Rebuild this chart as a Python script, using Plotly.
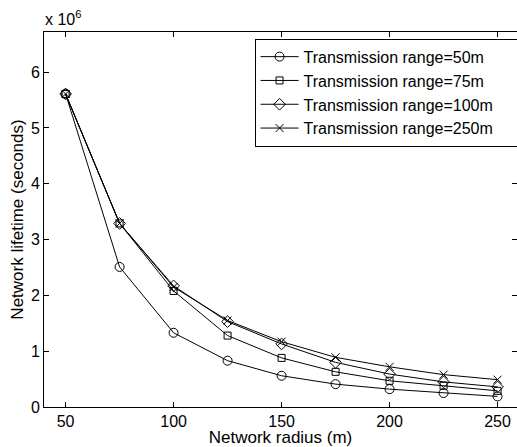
import plotly.graph_objects as go

radius = [50, 75, 100, 125, 150, 175, 200, 225, 250]
# Network lifetime, in units of 10^6 seconds
life_50 = [5.61, 2.51, 1.33, 0.83, 0.56, 0.41, 0.32, 0.25, 0.19]
life_75 = [5.61, 3.29, 2.08, 1.28, 0.88, 0.63, 0.47, 0.38, 0.29]
life_100 = [5.61, 3.29, 2.17, 1.53, 1.13, 0.80, 0.59, 0.45, 0.36]
life_250 = [5.61, 3.29, 2.15, 1.55, 1.17, 0.89, 0.72, 0.58, 0.49]

names = ["Transmission range=50m", "Transmission range=75m",
         "Transmission range=100m", "Transmission range=250m"]
series = [life_50, life_75, life_100, life_250]
symbols = ["circle-open", "square-open", "diamond-open", "x-thin-open"]
sizes = [9, 7, 9, 8]

fig = go.Figure()
for nm, ys, sym, sz in zip(names, series, symbols, sizes):
    fig.add_trace(go.Scatter(
        x=radius, y=ys, name=nm, mode="lines+markers",
        line=dict(color="black", width=1),
        marker=dict(symbol=sym, size=sz, color="black",
                    line=dict(color="black", width=1)),
    ))

font_family = "Liberation Sans, Arial, sans-serif"
fig.update_layout(
    width=517, height=447,
    margin=dict(l=44, r=0, t=32, b=40, autoexpand=False),
    paper_bgcolor="white", plot_bgcolor="white",
    font=dict(family=font_family, size=16, color="black"),
    showlegend=True,
    legend=dict(x=1.035, y=0.982, xanchor="right", yanchor="top",
                orientation="h", entrywidth=224, entrywidthmode="pixels",
                bgcolor="white", bordercolor="black", borderwidth=1,
                font=dict(size=16), tracegroupgap=0, itemwidth=38),
    xaxis=dict(range=[40, 259], tickvals=[50, 100, 150, 200, 250],
               showline=True, linecolor="black", linewidth=1, mirror="ticks",
               ticks="inside", ticklen=5, tickcolor="black",
               showgrid=False, zeroline=False, automargin=False,
               title=dict(text="Network radius (m)", standoff=2,
                          font=dict(size=17))),
    yaxis=dict(range=[0, 6.72], tickvals=[0, 1, 2, 3, 4, 5, 6],
               showline=True, linecolor="black", linewidth=1, mirror="ticks",
               ticks="inside", ticklen=5, tickcolor="black",
               showgrid=False, zeroline=False, automargin=False,
               title=dict(text="Network lifetime (seconds)", standoff=2,
                          font=dict(size=17))),
)
fig.add_annotation(text="x 10<sup>6</sup>", xref="paper", yref="paper",
                   x=0, y=1, xanchor="left", yanchor="bottom", showarrow=False,
                   font=dict(size=16), yshift=2, xshift=-1)

fig.write_html("out.html",
               config={"displayModeBar": False},
               post_script="document.body.style.margin='0';"
                           "document.body.style.overflow='hidden';")
